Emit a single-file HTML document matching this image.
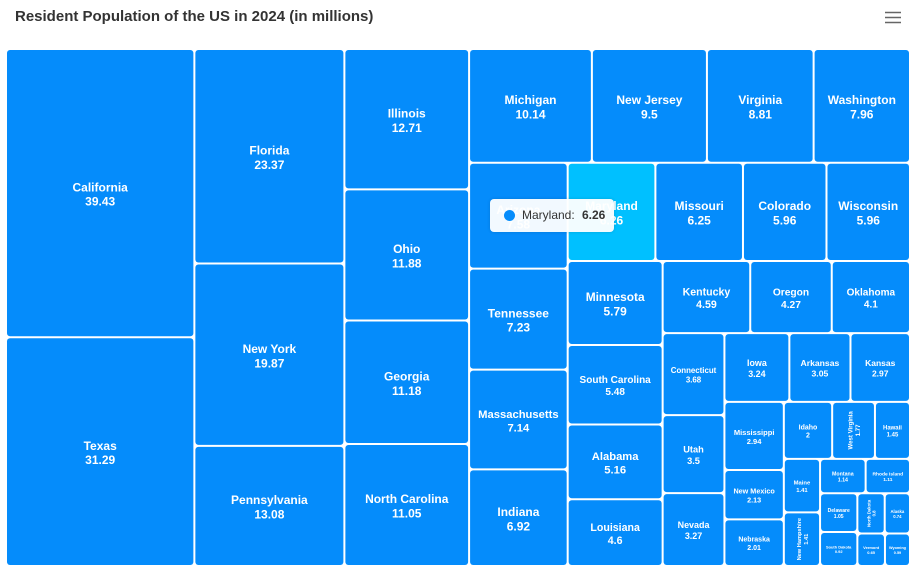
<!DOCTYPE html>
<html><head><meta charset="utf-8">
<style>
body{margin:0;background:#fff;font-family:"Liberation Sans",Arial,sans-serif;}
#wrap{position:relative;width:916px;height:573px;overflow:hidden;}
</style></head>
<body>
<div id="wrap">
<svg id="chart" width="916" height="573">
  <text x="15" y="21" font-size="15" font-weight="bold" fill="#333">Resident Population of the US in 2024 (in millions)</text>
  <g>
    <rect x="882" y="8" width="22" height="20" fill="#fff"/>
    <path d="M885 12.5H901M885 17.5H901M885 22.5H901" stroke="#666" stroke-width="1.6"/>
  </g>
  <g id="cells"></g>
  <g id="labels"></g>
</svg>
<div style="position:absolute;left:490px;top:199px;width:124px;height:33px;background:rgba(255,255,255,0.95);border-radius:4px;box-shadow:0 0 3px rgba(0,0,0,0.15);font-size:12px;color:#333;">
  <span style="position:absolute;left:14px;top:11px;width:11px;height:11px;border-radius:50%;background:#058cfb;"></span>
  <span style="position:absolute;left:32px;top:9px;">Maryland:</span>
  <span style="position:absolute;left:92px;top:9px;font-weight:bold;">6.26</span>
</div>
</div>
<script>
const states = ["California","Texas","Florida","New York","Pennsylvania","Illinois","Ohio","Georgia","North Carolina","Michigan","New Jersey","Virginia","Washington","Arizona","Tennessee","Massachusetts","Indiana","Maryland","Missouri","Colorado","Wisconsin","Minnesota","South Carolina","Alabama","Louisiana","Kentucky","Oregon","Oklahoma","Connecticut","Utah","Nevada","Iowa","Arkansas","Kansas","Mississippi","New Mexico","Nebraska","Idaho","West Virginia","Hawaii","Maine","New Hampshire","Montana","Rhode Island","Delaware","South Dakota","North Dakota","Alaska","Vermont","Wyoming"];
const populations = [39.43,31.29,23.37,19.87,13.08,12.71,11.88,11.18,11.05,10.14,9.5,8.81,7.96,7.58,7.23,7.14,6.92,6.26,6.25,5.96,5.96,5.79,5.48,5.16,4.6,4.59,4.27,4.1,3.68,3.5,3.27,3.24,3.05,2.97,2.94,2.13,2.01,2,1.77,1.45,1.41,1.41,1.14,1.11,1.05,0.92,0.8,0.74,0.65,0.59];
const hovered = "Maryland";

const NS="http://www.w3.org/2000/svg";
const PX=6, PY=49, PW=904, PH=517;

function worst(row, side){
  const s=row.reduce((a,b)=>a+b,0);
  let mx=0;
  for(const r of row){const len=s/side, o=r/len; mx=Math.max(mx,Math.max(len/o,o/len));}
  return mx;
}
function squarify(values, rect){
  const total=values.reduce((a,b)=>a+b,0);
  const areas=values.map(v=>v/total*rect.w*rect.h);
  const out=[]; let r={...rect}; let i=0;
  while(i<areas.length){
    const side=Math.min(r.w,r.h);
    let row=[areas[i]]; let j=i+1;
    while(j<areas.length){
      const nr=row.concat([areas[j]]);
      if(worst(nr,side)<=worst(row,side)){row=nr;j++;} else break;
    }
    const s=row.reduce((a,b)=>a+b,0);
    if(r.w>=r.h){
      const cw=s/r.h; let y=r.y;
      for(const a of row){const h=a/cw; out.push({x:r.x,y:y,w:cw,h:h}); y+=h;}
      r={x:r.x+cw,y:r.y,w:r.w-cw,h:r.h};
    } else {
      const rh=s/r.w; let x=r.x;
      for(const a of row){const w=a/rh; out.push({x:x,y:r.y,w:w,h:rh}); x+=w;}
      r={x:r.x,y:r.y+rh,w:r.w,h:r.h-rh};
    }
    i=j;
  }
  return out;
}
const rects=squarify(populations,{x:PX,y:PY,w:PW,h:PH});
const cg=document.getElementById('cells'), lg=document.getElementById('labels');
rects.forEach((c,k)=>{
  const el=document.createElementNS(NS,'rect');
  el.setAttribute('x',c.x+1);el.setAttribute('y',c.y+1);
  el.setAttribute('width',Math.max(0,c.w-2));el.setAttribute('height',Math.max(0,c.h-2));
  el.setAttribute('rx',3);
  el.setAttribute('fill',states[k]===hovered?'#00c0ff':'#058cfb');
  
  
  cg.appendChild(el);
  const name=states[k], val=String(populations[k]);
  const cap=Math.min(12, Math.sqrt(c.w*c.h)/7.5);
  const need=name.length*0.62;
  const fh=Math.min(cap,(c.w-8)/need,(c.h-4)/2.6);
  const fv=Math.min(cap,(c.h-8)/need,(c.w-4)/2.6);
  let rot=false, fs=fh;
  if(c.h>c.w*1.3 && fv>fh*1.3){rot=true;fs=fv;}
  fs=Math.max(3,fs);
  const t=document.createElementNS(NS,'text');
  const cx=c.x+c.w/2, cy=c.y+c.h/2;
  t.setAttribute('font-size',fs.toFixed(2));
  t.setAttribute('font-weight','bold');
  t.setAttribute('fill','#fff');
  t.setAttribute('text-anchor','middle');
  if(rot) t.setAttribute('transform','rotate(-90 '+cx+' '+cy+')');
  
  
  const a=document.createElementNS(NS,'tspan');
  a.setAttribute('x',cx);a.setAttribute('y',cy-fs*0.15);a.textContent=name;
  const b=document.createElementNS(NS,'tspan');
  b.setAttribute('x',cx);b.setAttribute('y',cy+fs*1.05);b.textContent=val;
  t.appendChild(a);t.appendChild(b);
  lg.appendChild(t);
});
</script>
</body></html>
